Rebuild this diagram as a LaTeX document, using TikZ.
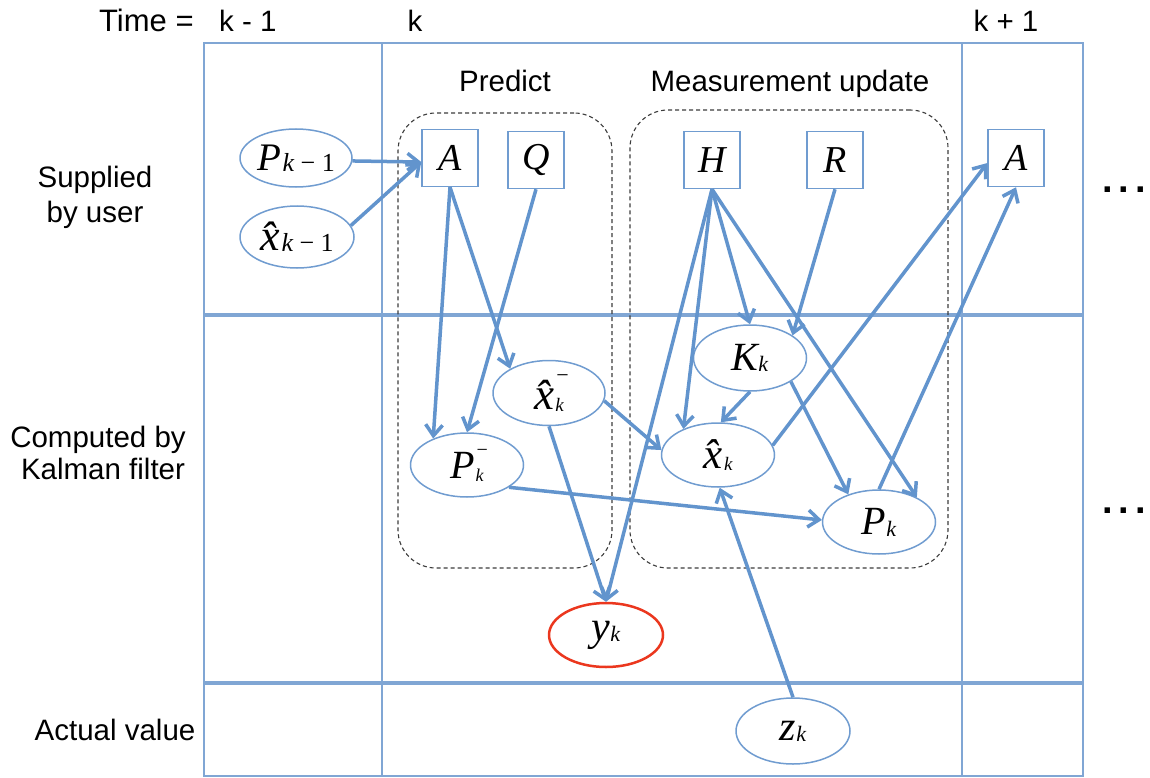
\documentclass[tikz,border=0pt]{standalone}
\usepackage{fontspec}
\setmainfont{Liberation Serif}
\newfontfamily\labfont{Liberation Sans}
\usetikzlibrary{arrows.meta,shapes.geometric}
\definecolor{frameblue}{RGB}{128,166,212}
\definecolor{linkblue}{RGB}{98,148,205}
\definecolor{ellblue}{RGB}{112,156,208}
\definecolor{redring}{RGB}{235,55,30}
\definecolor{dashgray}{RGB}{60,60,60}
\newcommand{\kfbig}[2]{{\fontsize{#1}{#1}\selectfont\itshape #2}}
\newcommand{\kfsmall}[2]{{\fontsize{#1}{#1}\selectfont\itshape #2}}
\newcommand{\kfminus}[2]{\rlap{\hspace{2pt}\raisebox{#1}{\fontsize{#2}{#2}\selectfont\upshape −}}}
\begin{document}
\begin{tikzpicture}[x=1pt,y=-1pt,
  lab/.style={font=\labfont\fontsize{29.5}{33}\selectfont, anchor=base, inner sep=0},
  kfvar/.style={ellipse, draw=ellblue, line width=1.5pt, fill=white, minimum width=113, minimum height=64, inner sep=0},
  kfpar/.style={rectangle, draw=ellblue, line width=1.5pt, fill=white, minimum width=56, minimum height=57, inner sep=0},
  kfgroup/.style={draw=dashgray, dashed, dash pattern=on 4pt off 3pt, line width=1.1pt, rounded corners=38, minimum width=#1, inner sep=0},
  link/.style={draw=linkblue, line width=3.5pt, -{Straight Barb[length=11pt,width=17pt]}},
  frame/.style={draw=frameblue, line width=1.8pt},
  divider/.style={draw=frameblue, line width=3.5pt},
  dotsty/.style={lab, font=\labfont\bfseries\fontsize{38}{38}\selectfont}]
\useasboundingbox (0,0) rectangle (1150,778);

% frame
\draw[frame] (204,43) rectangle (1083,776);
\draw[frame] (382,43) -- (382,776);
\draw[frame] (962,43) -- (962,776);
\draw[divider] (204,315) -- (1083,315);
\draw[divider] (204,683) -- (1083,683);

% labels
\node[lab, anchor=base west, font=\labfont\fontsize{31}{33}\selectfont] (tlab) at (99,32) {Time =};
\node[lab, anchor=base west] (tkm) at (219,32) {k - 1};
\node[lab] (tk) at (415,32) {k};
\node[lab] (tkp) at (1006,32) {k + 1};
\node[lab] (plab) at (505,92) {Predict};
\node[lab] (mlab) at (790,92) {Measurement update};
\node[lab] (s1) at (95,188) {Supplied};
\node[lab] (s2) at (95,222) {by user};
\node[lab] (c1) at (98,447) {Computed by};
\node[lab] (c2) at (103,479) {Kalman filter};
\node[lab] (a1) at (115,740) {Actual value};
\node[dotsty] (dots1) at (1124,193) {.\hspace{6pt}.\hspace{6pt}.};
\node[dotsty] (dots2) at (1124,513) {.\hspace{6pt}.\hspace{6pt}.};

% dashed groups
\node[kfgroup=214, minimum height=455] (pgroup) at (505,340.5) {};
\node[kfgroup=318, minimum height=458] (mgroup) at (789,339) {};

% parameter boxes
\node[kfpar] (A) at (450,158) {\kfbig{38}{A}};
\node[kfpar] (Q) at (536,160) {\kfbig{38}{Q}};
\node[kfpar] (H) at (712,160) {\kfbig{38}{H}};
\node[kfpar] (R) at (835,160) {\kfbig{38}{R}};
\node[kfpar] (A2) at (1016,158) {\kfbig{38}{A}};

% variables
\node[kfvar, minimum width=112, minimum height=58] (Pkm1) at (296,158) {\kfbig{39}{P}\,\raisebox{-1pt}{\kfsmall{26}{k \upshape − 1}}};
\node[kfvar, minimum width=114, minimum height=62] (xkm1) at (297,237) {\kfbig{44}{\^{x}}\,\raisebox{-1pt}{\kfsmall{26}{k \upshape − 1}}};
\node[kfvar, minimum width=112, minimum height=65] (xm) at (549,393) {\kfbig{45}{\^{x}}\kfminus{27pt}{22}\hspace{1pt}\raisebox{-2pt}{\kfsmall{19}{k}}};
\node[kfvar] (Pm) at (467,465) {\kfbig{40}{P}\kfminus{22pt}{20}\hspace{1pt}\raisebox{-3pt}{\kfsmall{18}{k}}};
\node[kfvar, minimum height=66] (K) at (750,358) {\kfbig{40}{K}\raisebox{-1pt}{\kfsmall{22}{k}}};
\node[kfvar] (xk) at (718,455) {\kfbig{43}{\^{x}}\,\raisebox{-2pt}{\kfsmall{19}{k}}};
\node[kfvar] (Pk) at (879,522) {\kfbig{40}{P}\raisebox{-2pt}{\kfsmall{22}{k}}};
\node[kfvar, draw=redring, line width=2.5pt, minimum width=114] (yk) at (606,635) {\kfbig{42}{y}\raisebox{-1pt}{\kfsmall{22}{k}}};
\node[kfvar, minimum width=114, minimum height=66] (zk) at (793,731) {\kfbig{42}{z}\raisebox{-1pt}{\kfsmall{22}{k}}};

% connectors
\draw[link] (Pkm1.-3) -- (A.188);
\draw[link] (xkm1.12) -- (A.188);
\draw[link] (A.south) -- (Pm.142);
\draw[link] (A.south) -- (xm.148);
\draw[link] (Q.south) -- (Pm.north);
\draw[link] (xm.-8) -- (xk.175);
\draw[link] (xm.south) -- (yk.north);
\draw[link] (Pm.-28) -- (Pk.178);
\draw[link] (H.south) -- (yk.north);
\draw[link] (H.south) -- (xk.143);
\draw[link] (H.south) -- (K.north);
\draw[link] (H.south) -- (Pk.33);
\draw[link] (R.south) -- (K.28);
\draw[link] (K.south) -- (xk.85);
\draw[link] (K.-30) -- (Pk.138);
\draw[link] (xk.10) -- (A2.190);
\draw[link] (Pk.north) -- (A2.south);
\draw[link] (zk.north) -- (xk.-87);
\end{tikzpicture}
\end{document}
